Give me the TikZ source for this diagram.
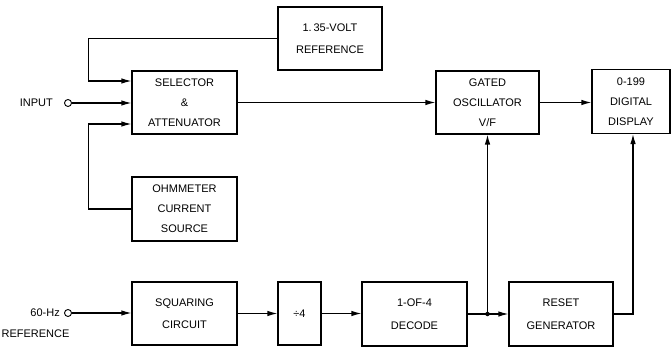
\documentclass[tikz,border=0pt]{standalone}
\usepackage{fontspec}
\newfontfamily\lbl{Liberation Sans}
\usetikzlibrary{arrows.meta}
\begin{document}
\begin{tikzpicture}[x=1pt,y=-1pt,
  blk/.style={draw,line width=1.1pt,inner sep=0pt,align=center,
    font=\lbl\fontsize{11}{20}\selectfont},
  blkb/.style={blk,font=\lbl\fontsize{11}{22.5}\selectfont},
  lab/.style={inner sep=0pt,font=\lbl\fontsize{11}{13}\selectfont},
  arr/.style={line width=1.1pt,-{Latex[length=10pt,width=5.5pt]}},
  term/.style={circle,draw,line width=0.9pt,minimum size=7pt,inner sep=0pt},
  dot/.style={circle,fill,minimum size=4.5pt,inner sep=0pt}]
\useasboundingbox (0,0) rectangle (671,347);
% blocks
\node[blkb,minimum width=104pt,minimum height=63pt] (ref) at (330,38.5) {1.\,35-VOLT\\REFERENCE};
\node[blk,minimum width=105pt,minimum height=63pt] (sel) at (184.5,102.5) {SELECTOR\\\&\\ATTENUATOR};
\node[blk,minimum width=105pt,minimum height=64pt] (ohm) at (184.5,209) {OHMMETER\\CURRENT\\SOURCE};
\node[blk,minimum width=103pt,minimum height=63pt] (gat) at (487.5,102.5) {GATED\\OSCILLATOR\\V/F};
\node[blk,minimum width=78pt,minimum height=64pt] (disp) at (631,101.5) {0-199\\DIGITAL\\DISPLAY};
\node[blkb,minimum width=105pt,minimum height=63pt] (sq) at (184.5,313.5) {SQUARING\\CIRCUIT};
\node[blk,minimum width=43pt,minimum height=63pt] (div) at (299.5,313.5) {÷4};
\node[blkb,minimum width=105pt,minimum height=64pt] (dec) at (414.5,314) {1-OF-4\\DECODE};
\node[blkb,minimum width=104pt,minimum height=64pt] (rst) at (561,314) {RESET\\GENERATOR};
% terminals and labels
\node[term] (inp) at (68,103) {};
\node[lab,anchor=east] (inplab) at (53,103) {INPUT};
\node[term] (hz) at (68,313) {};
\node[lab,anchor=east] (hzlab) at (60,313) {60-Hz};
\node[lab] (hzref) at (35.5,334) {REFERENCE};
% connectors
\draw[arr] (ref.west) -| ([xshift=-43pt,yshift=21.5pt]sel.west) -- ([yshift=21.5pt]sel.west);
\draw[arr] (inp.east) -- (inp.east -| sel.west);
\draw[arr] (ohm.west) -| ([xshift=-43pt,yshift=-21.5pt]sel.west) -- ([yshift=-21.5pt]sel.west);
\draw[arr] (sel.east) -- (gat.west);
\draw[arr] (gat.east) -- (gat.east -| disp.west);
\draw[arr] (hz.east) -- (hz.east -| sq.west);
\draw[arr] (sq.east) -- (sq.east -| div.west);
\draw[arr] (div.east) -- (div.east -| dec.west);
\draw[arr] (dec.east) -- (dec.east -| rst.west);
\node[dot] (j) at (dec.east -| gat.south) {};
\draw[arr] (j.center) -- (gat.south);
\draw[arr] (rst.east) -| ([xshift=2pt]disp.south);
\end{tikzpicture}
\end{document}
